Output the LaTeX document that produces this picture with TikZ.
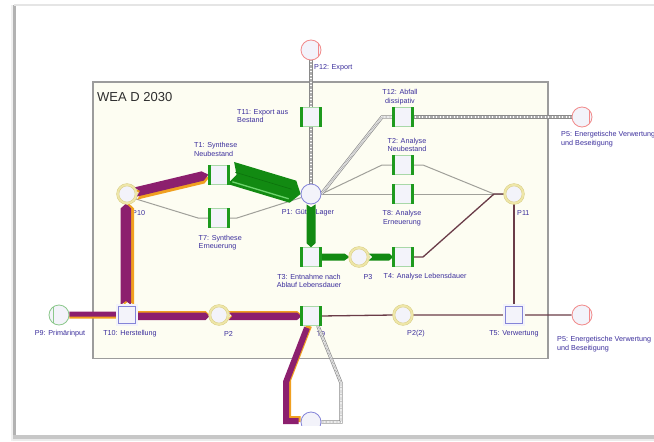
\documentclass[tikz,border=0pt]{standalone}
\usepackage{fontspec}
\setmainfont{Liberation Sans}
\usetikzlibrary{calc}
\pgfdeclarelayer{pagebg}
\pgfdeclarelayer{labels}
\pgfdeclarelayer{flows}
\pgfdeclarelayer{top}
\pgfsetlayers{pagebg,labels,flows,main,top}
\definecolor{lblc}{HTML}{3B2E9C}
\definecolor{purp}{HTML}{8C1F6E}
\definecolor{orng}{HTML}{F0A020}
\definecolor{gflow}{HTML}{128A12}
\definecolor{gflowd}{HTML}{0C720C}
\definecolor{gflowl}{HTML}{6ED46E}
\definecolor{tbar}{HTML}{1E9A1E}
\definecolor{tedge}{HTML}{A8D8A8}
\definecolor{pfill}{HTML}{F3F3FA}
\definecolor{yring}{HTML}{EEE6A8}
\definecolor{yedge}{HTML}{D8CC80}
\definecolor{redc}{HTML}{F28A8A}
\definecolor{bluec}{HTML}{8484D8}
\definecolor{greenc}{HTML}{8CC88C}
\definecolor{gline}{HTML}{A0A09A}
\definecolor{bline}{HTML}{6A3C48}
\definecolor{hgray}{HTML}{8A8A8A}
\definecolor{boxfill}{HTML}{FDFDF2}
\definecolor{boxline}{HTML}{9C9C9C}
\newcommand{\arrflow}[6]{%
  \coordinate (fa) at #1; \coordinate (fb) at #2;
  \coordinate (fh) at ($(fb)!#5!(fa)$);
  \coordinate (fn) at ($(fa)!#4!(fb)$);
  \fill[#6] ($(fa)!#3!90:(fb)$) -- ($(fh)!#3!-90:(fa)$) -- (fb) -- ($(fh)!#3!90:(fa)$) -- ($(fa)!#3!-90:(fb)$) -- (fn) -- cycle;}
\newcommand{\purflow}[6]{%
  \arrflow{(#1)}{(#2)}{#3}{#4}{#5}{orng}
  \arrflow{($(#1)+#6$)}{($(#2)+#6$)}{#3}{#4}{#5}{purp}}
\begin{document}
\begin{tikzpicture}[x=1pt,y=-1pt,
  lbl/.style={font=\fontsize{7.2}{8.3}\selectfont, text=lblc, inner sep=0pt, align=center},
  place/.style={circle, minimum size=20pt, inner sep=0pt, fill=pfill, line width=0.8pt},
  yplace/.style={place, minimum size=18.5pt, draw=yedge, line width=0.45pt, double=yring, double distance=1.9pt},
  rplace/.style={place, draw=redc},
  bplace/.style={place, draw=bluec},
  gplace/.style={place, draw=greenc},
  trans/.style={rectangle, minimum size=19pt, inner sep=0pt, fill=pfill, draw=tedge, line width=0.6pt},
  btrans/.style={rectangle, minimum size=19.5pt, inner sep=0pt, fill=pfill, draw=bluec, line width=0.6pt, double=pfill, double distance=2pt},
  tbarl/.style={draw=tbar, line width=3pt},
  grayline/.style={draw=gline, line width=1pt},
  brline/.style={draw=bline, line width=1.3pt},
  hatched/.style={draw=hgray, line width=3.4pt,
     postaction={draw=white, line width=2pt},
     postaction={draw=hgray!70, line width=1.4pt, dash pattern=on 0.7pt off 0.7pt}}
]
\useasboundingbox (0,0) rectangle (654,442);

\begin{pgfonlayer}{pagebg}
  \fill[white] (0,0) rectangle (654,442);
  \draw[boxline, line width=1.2pt, fill=boxfill] (93,82) rectangle (548,358.5);
  \node[anchor=west, inner sep=0pt, font=\fontsize{13}{15}\selectfont, text=black!82] (title) at (97,97) {WEA D 2030};
\end{pgfonlayer}

% places and transitions
\node[rplace] (P12) at (311,50) {};
\node[trans] (T11) at (311,117) {};
\node[trans] (T12) at (403,117) {};
\node[rplace] (P5a) at (582,117) {};
\node[trans] (T2) at (403,165) {};
\node[trans] (T8) at (403,194) {};
\node[bplace] (P1) at (311,194) {};
\node[yplace] (P11) at (514,194) {};
\node[trans] (T1) at (219,175) {};
\node[trans] (T7) at (219,218) {};
\node[yplace] (P10) at (127,194) {};
\node[trans] (T3) at (311,257) {};
\node[yplace] (P3) at (359,257) {};
\node[trans] (T4) at (403,257) {};
\node[gplace] (P9) at (59,315) {};
\node[btrans] (T10) at (127,315) {};
\node[yplace] (P2) at (219,315) {};
\node[trans] (T9) at (311,316) {};
\node[yplace] (P2b) at (403,315) {};
\node[btrans] (T5) at (514,315) {};
\node[rplace] (P5b) at (582,315) {};
\node[bplace] (B0) at (311,422) {};

\foreach \n in {P12,P5a,P5b}
  \draw[redc, line width=0.7pt] ($(\n.center)+(7,-7)$) -- ($(\n.center)+(7,7)$);
\draw[greenc, line width=0.7pt] ($(P9.center)+(-6,-8)$) -- ($(P9.center)+(-6,8)$);
\foreach \n in {T11,T12,T2,T8,T1,T7,T3,T4,T9}
  \draw[tbarl] (\n.north west) -- (\n.south west) (\n.north east) -- (\n.south east);

% labels
\begin{pgfonlayer}{labels}
  \node[lbl, anchor=west] (lP12) at (314,68) {P12: Export};
  \node[lbl, anchor=west, align=left] (lT11) at (237,116) {T11: Export aus\\Bestand};
  \node[lbl] (lT12) at (400,97) {T12: Abfall\\dissipativ};
  \node[lbl] (lT2) at (407,145) {T2: Analyse\\Neubestand};
  \node[lbl] (lT8) at (402,218) {T8: Analyse\\Erneuerung};
  \node[lbl] (lP1) at (308,213) {P1: Güter-Lager};
  \node[lbl, anchor=west] (lP10) at (132,213.5) {P10};
  \node[lbl, anchor=west, align=left] (lT1) at (194,149.5) {T1: Synthese\\Neubestand};
  \node[lbl, anchor=west, align=left] (lT7) at (198.5,242.5) {T7: Synthese\\Erneuerung};
  \node[lbl, anchor=west] (lP11) at (517,213) {P11};
  \node[lbl] (lT3) at (309,281) {T3: Entnahme nach\\Ablauf Lebensdauer};
  \node[lbl] (lP3) at (368,277) {P3};
  \node[lbl, anchor=west] (lT4) at (383.5,277) {T4: Analyse Lebensdauer};
  \node[lbl] (lP9) at (60,334) {P9: Primärinput};
  \node[lbl] (lT10) at (130,334) {T10: Herstellung};
  \node[lbl] (lP2) at (228.5,334) {P2};
  \node[lbl] (lT9) at (321,334) {T9};
  \node[lbl] (lP2b) at (416,334) {P2(2)};
  \node[lbl] (lT5) at (514,334) {T5: Verwertung};
  \node[lbl, anchor=west, align=left] (lP5b) at (557,344) {P5: Energetische Verwertung\\und Beseitigung};
  \node[lbl, anchor=west, align=left] (lP5a) at (561,139) {P5: Energetische Verwertung\\und Beseitigung};
\end{pgfonlayer}

% connectors and flows
\begin{pgfonlayer}{flows}
  \coordinate (k1) at (382,117);
  \coordinate (k2) at (341,383);
  \coordinate (k3) at (341,422);
  \coordinate (k4) at (198,218);
  \coordinate (k5) at (237,218);
  \coordinate (k6) at (382,165);
  \coordinate (k7) at (423,165);
  \coordinate (k8) at (494,194);
  \coordinate (k9) at (423,257);
  \draw[grayline] (P10.-30) -- (k4) -- (T7.west);
  \draw[grayline] (T7.east) -- (k5) -- (P1.200);
  \draw[grayline] (P1.east) -- (k6) -- (T2.west);
  \draw[grayline] (T2.east) -- (k7) -- (k8) -- (P11.west);
  \draw[grayline] (P1.east) -- (T8.west) (T8.east) -- (P11.west);
  \draw[brline] (T4.east) -- (k9) -- (k8) -- (P11.west);
  \draw[brline] (P11.south) -- (T5.north);
  \draw[brline] (T9.east) -- (P2b.west) (P2b.east) -- (T5.west) (T5.east) -- (P5b.west);
  \draw[hatched] (P12.south) -- (T11.north);
  \draw[hatched] (T11.south) -- (P1.north);
  \draw[hatched] (P1.east) -- (k1) -- (T12.west);
  \draw[hatched] (T12.east) -- (P5a.west);
  \draw[hatched] (T9.-55) -- (k2) -- (k3) -- (B0.east);

  % purple / orange flows
  \coordinate (f1a) at ($(P9.east)+(0,1)$);
  \coordinate (f1b) at ($(T10.west)+(0,1)$);
  \purflow{f1a}{f1b}{2.5pt}{0pt}{0pt}{(0,-2)}
  \coordinate (f2a) at ($(T10.east)+(0,-0.25)$);
  \coordinate (f2b) at ($(P2.west)+(0,-0.25)$);
  \purflow{f2a}{f2b}{3.75pt}{0pt}{4pt}{(0,1.5)}
  \coordinate (f3a) at ($(P2.east)+(0,-0.25)$);
  \coordinate (f3b) at ($(T9.west)+(0,-1.25)$);
  \purflow{f3a}{f3b}{3.75pt}{4pt}{4pt}{(0,1.5)}
  \coordinate (f4a) at ($(T10.north)+(1.9,0)$);
  \coordinate (f4b) at ($(P10.south)+(1.9,0)$);
  \purflow{f4a}{f4b}{5.2pt}{4pt}{5pt}{(-3,0)}
  \coordinate (f5a) at ($(P10.center)+(9,1)$);
  \coordinate (f5b) at ($(T1.west)+(0,2.5)$);
  \purflow{f5a}{f5b}{4.75pt}{5pt}{6pt}{(-0.76,-2.9)}
  \coordinate (q1) at ($(T9.south)+(-2,0)$);
  \coordinate (q2) at (288,380);
  \coordinate (q3) at (288,419);
  \coordinate (q4) at ($(B0.west)+(0,-3)$);
  \draw[orng, line width=6pt] (q1) -- (q2) -- (q3) -- (q4);
  \draw[purp, line width=6pt] ($(q1)+(-2,2)$) -- ($(q2)+(-2,2)$) -- ($(q3)+(-2,2)$) -- ($(q4)+(-2,2)$);

  % green flows
  \coordinate (g1) at ($(T1.east)+(2,-2)$);
  \coordinate (g2) at (P1.west);
  \arrflow{(g1)}{(g2)}{11.5pt}{6pt}{8pt}{gflow}
  \coordinate (g3) at ($(g2)!10pt!(g1)$);
  \coordinate (g4) at ($(g1)!4pt!(g2)$);
  \draw[gflowl, line width=1.3pt] ($(g4)!8pt!-90:(g2)$) -- ($(g3)!8pt!90:(g1)$);
  \draw[gflowd, line width=0.6pt] ($(g4)!2pt!90:(g2)$) -- ($(g3)!2pt!-90:(g1)$);
  \arrflow{(P1.south)}{(T3.north)}{4.5pt}{3pt}{4pt}{gflow}
  \arrflow{(T3.east)}{(P3.west)}{3.5pt}{0pt}{5pt}{gflow}
  \arrflow{(P3.east)}{(T4.west)}{3.5pt}{4pt}{4pt}{gflow}
\end{pgfonlayer}

% page edge and shadow
\begin{pgfonlayer}{top}
  \fill[white] (16,425.5) rectangle (654,435);
  \fill[black!6] (11,5) rectangle (13,441);
  \fill[black!30] (13,5) rectangle (15.5,439);
  \fill[black!10] (14,3.8) rectangle (654,5.8);
  \fill[black!22] (13,435) rectangle (654,439);
  \fill[black!8] (13,439) rectangle (654,441);
\end{pgfonlayer}
\end{tikzpicture}
\end{document}
